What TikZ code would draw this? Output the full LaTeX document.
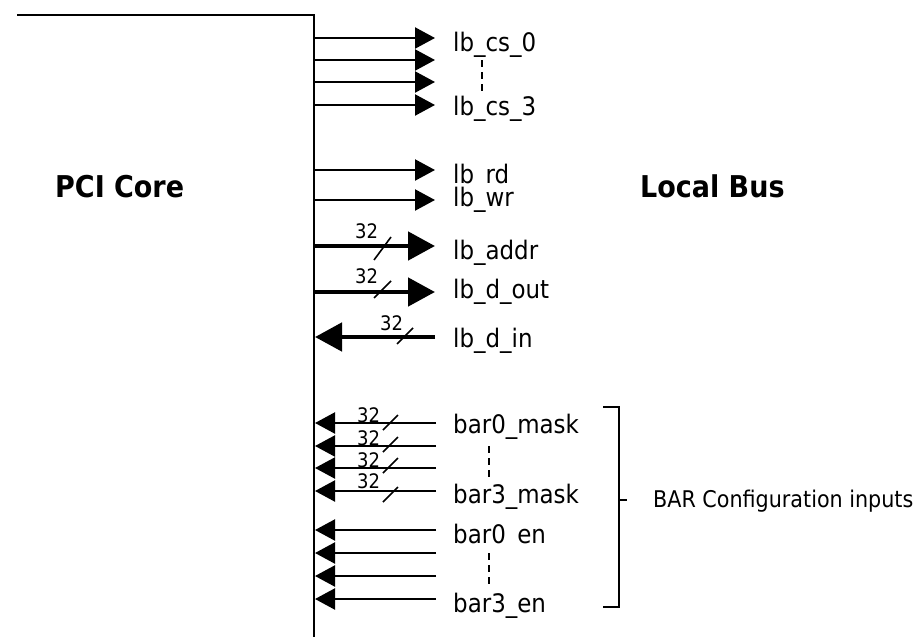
\documentclass[tikz,border=0pt]{standalone}
\usepackage{fontspec}
\setmainfont{DejaVu Sans Condensed}
\usetikzlibrary{arrows.meta}
\tikzset{
  wire/.style={line width=2.2pt},
  bus/.style={line width=4.8pt},
  thintip/.style={-{Triangle[length=20pt,width=21pt]}},
  bustip/.style={-{Triangle[length=27pt,width=28pt]}},
  sig/.style={anchor=base west, inner sep=0pt, font=\fontsize{25.5}{25.5}\selectfont},
  title/.style={anchor=base west, inner sep=0pt, font=\fontsize{30}{30}\selectfont\bfseries},
  width/.style={anchor=base west, inner sep=0pt, font=\fontsize{20}{20}\selectfont},
  slash/.style={line width=1.6pt},
  dots/.style={line width=1.6pt, dash pattern=on 7pt off 5pt},
  brk/.style={line width=2.2pt}
}
\begin{document}
\begin{tikzpicture}[x=1pt,y=-1pt]
\useasboundingbox (0,0) rectangle (920,637);
% PCI core box edge
\coordinate (tl) at (17,15);
\coordinate (tr) at (314,15);
\coordinate (br) at (314,637);
\draw[wire] (tl) -- (tr) -- (br);
\node[title] (pci) at (55,197) {PCI Core};
\node[title] (lbus) at (640,197) {Local Bus};
% outputs
\foreach \n/\y in {cs0/38, cs1/60, cs2/82, cs3/105, rd/170, wr/200} {
  \coordinate (s\n) at (314,\y);
  \coordinate (e\n) at (435,\y);
  \draw[wire,thintip] (s\n) -- (e\n);
}
\node[sig] (lcs0) at (453,51) {lb\_cs\_0};
\node[sig] (lcs3) at (453,115) {lb\_cs\_3};
\coordinate (d1a) at (482,60);
\coordinate (d1b) at (482,93);
\draw[dots] (d1a) -- (d1b);
\node[sig] (lrd) at (453,183) {lb\phantom{\_}rd};
\node[sig] (lwr) at (453,206) {lb\_wr};
% buses
\coordinate (saddr) at (314,246); \coordinate (eaddr) at (435,246);
\draw[bus,bustip] (saddr) -- (eaddr);
\coordinate (sdout) at (314,292); \coordinate (edout) at (435,292);
\draw[bus,bustip] (sdout) -- (edout);
\coordinate (sdin) at (435,337); \coordinate (edin) at (315,337);
\draw[bus,bustip] (sdin) -- (edin);
\node[sig] (laddr) at (453,259) {lb\_addr};
\node[sig] (ldout) at (453,298) {lb\_d\_out};
\node[sig] (ldin) at (453,347) {lb\_d\_in};
\node[width] (w1) at (355,238) {32};
\node[width] (w2) at (355,283) {32};
\node[width] (w3) at (380,330) {32};
\coordinate (a1) at (374,260); \coordinate (b1) at (391,237); \draw[slash] (a1) -- (b1);
\coordinate (a2) at (374,298); \coordinate (b2) at (391,281); \draw[slash] (a2) -- (b2);
\coordinate (a3) at (397,344); \coordinate (b3) at (413,328); \draw[slash] (a3) -- (b3);
% BAR inputs
\foreach \n/\y in {m0/423, m1/446, m2/468, m3/491, e0/530, e1/553, e2/576, e3/599} {
  \coordinate (s\n) at (436,\y);
  \coordinate (e\n) at (315,\y);
  \draw[wire,thintip] (s\n) -- (e\n);
}
\foreach \n/\y in {4/422, 5/445, 6/467, 7/488} {
  \node[width] (w\n) at (357,\y) {32};
}
\foreach \n/\y in {4/430, 5/452, 6/473, 7/502} {
  \coordinate (a\n) at (383,\y);
  \coordinate (b\n) at (398,\y-15);
  \draw[slash] (a\n) -- (b\n);
}
\node[sig] (lm0) at (453,433) {bar0\_mask};
\node[sig] (lm3) at (453,503) {bar3\_mask};
\node[sig] (le0) at (453,543) {bar0\phantom{\_}en};
\node[sig] (le3) at (453,612) {bar3\_en};
\coordinate (d2a) at (489,446); \coordinate (d2b) at (489,479);
\draw[dots] (d2a) -- (d2b);
\coordinate (d3a) at (489,553); \coordinate (d3b) at (489,587);
\draw[dots] (d3a) -- (d3b);
% bracket
\coordinate (k1) at (603,407); \coordinate (k2) at (619,407);
\coordinate (k3) at (619,607); \coordinate (k4) at (603,607);
\coordinate (km) at (619,500); \coordinate (kt) at (627,500);
\draw[brk] (k1) -- (k2) -- (k3) -- (k4);
\draw[brk] (km) -- (kt);
\node[anchor=base west, inner sep=0pt, font=\fontsize{23}{23}\selectfont] (barcfg) at (653,507) {BAR Configuration inputs};
\end{tikzpicture}
\end{document}
